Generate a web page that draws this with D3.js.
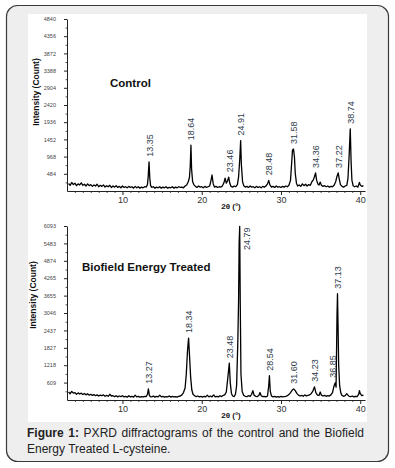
<!DOCTYPE html>
<html lang="en">
<head>
<meta charset="utf-8">
<title>PXRD L-cysteine</title>
<script src="https://cdn.jsdelivr.net/npm/d3@7"></script>
<style>
body{margin:0;background:#fff;}
</style>
</head>
<body>
<script>
// x ticks and y tick labels
var xTicks = [10, 20, 30, 40];
var controlTicks = [484, 968, 1452, 1936, 2420, 2904, 3388, 3872, 4356, 4840];
var treatedTicks = [609, 1218, 1827, 2437, 3046, 3655, 4265, 4874, 5483, 6093];

// [2theta, counts]
var controlData = [
[3.2,210],[3.4,160],[3.6,240],[3.8,180],[4.0,220],[4.2,150],[4.4,200],[4.6,170],[4.8,230],[5.0,160],
[5.2,190],[5.4,140],[5.6,200],[5.8,150],[6.0,180],[6.2,130],[6.4,170],[6.6,140],[6.8,190],[7.0,120],
[7.2,160],[7.4,130],[7.6,170],[7.8,110],[8.0,150],[8.2,120],[8.4,160],[8.6,100],[8.8,140],[9.0,110],
[9.2,150],[9.4,100],[9.6,130],[9.8,90],[10.0,140],[10.2,100],[10.4,120],[10.6,90],[10.8,130],[11.0,100],
[11.2,120],[11.4,80],[11.6,130],[11.8,90],[12.0,120],[12.2,80],[12.4,110],[12.6,90],[12.8,120],[13.0,110],
[13.15,180],[13.25,420],[13.35,820],[13.45,350],[13.55,150],[13.7,100],[13.9,120],[14.1,80],[14.3,110],[14.5,90],
[14.7,120],[14.9,80],[15.1,110],[15.3,90],[15.5,120],[15.7,80],[15.9,100],[16.1,90],[16.3,120],[16.5,80],
[16.7,110],[16.9,90],[17.1,120],[17.3,100],[17.5,110],[17.7,90],[17.9,140],[18.1,170],[18.3,260],[18.45,380],
[18.55,700],[18.64,1290],[18.72,620],[18.85,260],[19.0,180],[19.2,130],[19.4,100],[19.6,140],[19.8,110],[20.0,120],
[20.2,90],[20.4,130],[20.6,100],[20.8,120],[21.0,140],[21.15,280],[21.3,450],[21.45,200],[21.6,110],[21.8,130],
[22.0,100],[22.2,120],[22.4,110],[22.6,140],[22.8,230],[22.95,360],[23.1,220],[23.25,280],[23.4,390],[23.55,210],
[23.7,130],[23.9,110],[24.1,140],[24.3,120],[24.5,180],[24.65,400],[24.8,900],[24.91,1420],[25.0,750],[25.15,260],
[25.3,150],[25.5,110],[25.7,130],[25.9,100],[26.1,140],[26.3,110],[26.5,120],[26.7,90],[26.9,130],[27.1,100],
[27.3,120],[27.5,90],[27.7,130],[27.9,110],[28.1,140],[28.3,200],[28.45,300],[28.6,170],[28.8,110],[29.0,130],
[29.2,100],[29.4,140],[29.6,110],[29.8,120],[30.0,100],[30.2,130],[30.4,110],[30.6,140],[30.8,120],[31.0,160],
[31.2,300],[31.35,800],[31.45,1150],[31.58,1180],[31.7,950],[31.8,500],[31.95,220],[32.1,140],[32.3,170],[32.5,130],
[32.7,200],[32.9,150],[33.1,190],[33.3,140],[33.5,180],[33.7,160],[33.9,260],[34.1,320],[34.25,420],[34.36,510],
[34.5,300],[34.65,200],[34.8,170],[34.95,250],[35.1,160],[35.3,130],[35.5,150],[35.7,120],[35.9,140],[36.1,110],
[36.3,130],[36.5,120],[36.7,160],[36.9,260],[37.05,400],[37.22,510],[37.35,340],[37.5,180],[37.7,130],[37.9,110],
[38.1,140],[38.3,160],[38.45,350],[38.6,1000],[38.74,1750],[38.85,800],[38.95,300],[39.1,150],[39.3,120],[39.5,140],
[39.7,110],[39.8,180],[39.9,240],[40.0,170],[40.2,130],[40.4,150]
];

// [2theta, counts]
var treatedData = [
[3.2,280],[3.4,220],[3.6,300],[3.8,240],[4.0,260],[4.2,200],[4.4,250],[4.6,210],[4.8,240],[5.0,190],
[5.2,230],[5.4,180],[5.6,220],[5.8,170],[6.0,200],[6.2,160],[6.4,190],[6.6,150],[6.8,180],[7.0,140],
[7.2,170],[7.4,150],[7.6,180],[7.8,130],[8.0,160],[8.2,130],[8.4,200],[8.6,140],[8.8,150],[9.0,120],
[9.2,150],[9.4,110],[9.6,140],[9.8,120],[10.0,150],[10.2,110],[10.4,130],[10.6,100],[10.8,150],[11.0,110],
[11.2,130],[11.4,100],[11.6,170],[11.8,110],[12.0,130],[12.2,100],[12.4,120],[12.6,110],[12.8,130],[13.0,120],
[13.15,200],[13.27,390],[13.38,180],[13.5,120],[13.7,110],[13.9,140],[14.1,100],[14.3,130],[14.5,110],[14.7,170],
[14.9,110],[15.1,130],[15.3,100],[15.5,120],[15.7,110],[15.9,140],[16.1,100],[16.3,130],[16.5,110],[16.7,120],
[16.9,100],[17.1,130],[17.3,140],[17.5,180],[17.7,260],[17.9,420],[18.05,900],[18.2,1700],[18.34,2170],[18.45,1600],
[18.6,800],[18.75,350],[18.9,200],[19.1,150],[19.3,120],[19.5,140],[19.7,110],[19.9,130],[20.1,100],[20.3,130],
[20.5,110],[20.7,170],[20.9,110],[21.1,140],[21.3,110],[21.5,180],[21.7,110],[21.9,130],[22.1,110],[22.3,150],
[22.5,120],[22.7,160],[22.9,180],[23.1,280],[23.3,800],[23.48,1290],[23.6,600],[23.75,230],[23.9,140],[24.1,120],
[24.25,200],[24.4,500],[24.55,2000],[24.65,3500],[24.72,5500],[24.79,6080],[24.86,3400],[24.95,900],[25.1,300],[25.3,160],
[25.5,130],[25.7,120],[25.9,150],[26.1,130],[26.3,200],[26.45,330],[26.6,170],[26.8,130],[27.0,120],[27.2,160],
[27.35,260],[27.5,150],[27.7,120],[27.9,130],[28.1,110],[28.3,140],[28.45,500],[28.54,850],[28.65,300],[28.8,140],
[29.0,110],[29.2,130],[29.4,100],[29.6,120],[29.8,100],[30.0,130],[30.2,110],[30.4,120],[30.6,130],[30.8,150],
[31.0,190],[31.2,260],[31.4,340],[31.6,390],[31.8,330],[32.0,230],[32.2,170],[32.4,140],[32.6,160],[32.8,130],
[33.0,180],[33.2,140],[33.4,160],[33.6,180],[33.8,220],[34.0,300],[34.23,460],[34.4,260],[34.6,170],[34.8,160],
[34.95,280],[35.1,170],[35.3,140],[35.5,160],[35.7,130],[35.9,150],[36.1,140],[36.3,180],[36.5,260],[36.7,500],
[36.85,600],[36.95,450],[37.0,1500],[37.07,3000],[37.13,3720],[37.2,2600],[37.28,1200],[37.4,500],[37.55,250],[37.7,160],
[37.9,130],[38.1,150],[38.3,220],[38.45,170],[38.6,130],[38.8,120],[39.0,140],[39.2,110],[39.4,130],[39.6,120],
[39.8,200],[39.9,330],[40.0,220],[40.2,150],[40.4,170]
];

// peak labels
var controlPeaks = [13.35, 18.64, 23.46, 24.91, 28.48, 31.58, 34.36, 37.22, 38.74];
var controlPeakText = ["13.35", "18.64", "23.46", "24.91", "28.48", "31.58", "34.36", "37.22", "38.74"];
var treatedPeaks = [13.27, 18.34, 23.48, 24.79, 28.54, 31.60, 34.23, 36.85, 37.13];
var treatedPeakText = ["13.27", "18.34", "23.48", "24.79", "28.54", "31.60", "34.23", "36.85", "37.13"];

var W = 395, H = 468;
var svg = d3.select("body").append("svg")
  .attr("width", W).attr("height", H)
  .style("display", "block");

// frame: grey card with white chart area
svg.append("rect")
  .attr("x", 6.5).attr("y", 5.5).attr("width", 382).attr("height", 456)
  .attr("rx", 11).attr("ry", 11)
  .attr("fill", "#eeeeee").attr("stroke", "#3a3a3a").attr("stroke-width", 1.2);
svg.append("rect")
  .attr("x", 28).attr("y", 14).attr("width", 339).attr("height", 408)
  .attr("fill", "#ffffff");

var x = d3.scaleLinear().domain([3, 40.6]).range([67, 365]);

function drawPanel(opts) {
  var y = d3.scaleLinear().domain([0, opts.max]).range([opts.bottom, opts.top]);
  var g = svg.append("g");

  // x axis: major + minor ticks
  var xMinor = d3.range(4, 41, 1).filter(function(d){ return d % 10 !== 0; });
  g.append("g")
    .attr("transform", "translate(0," + opts.bottom + ")")
    .call(d3.axisBottom(x).tickValues(xMinor).tickSize(2).tickFormat(""))
    .call(function(a){ a.select(".domain").remove(); a.selectAll("line").attr("stroke", "#555"); });
  var xa = g.append("g")
    .attr("transform", "translate(0," + opts.bottom + ")")
    .call(d3.axisBottom(x).tickValues(xTicks).tickSize(4).tickSizeOuter(0).tickPadding(2));
  xa.select(".domain").attr("stroke", "#222");
  xa.selectAll("line").attr("stroke", "#222");
  xa.selectAll("text").attr("font-family", "Arial, 'Liberation Sans', sans-serif")
    .attr("font-size", "9px").attr("fill", "#333");

  // y axis
  var yMinor = opts.ticks.map(function(d){ return d - opts.ticks[0] / 2; });
  g.append("g")
    .attr("transform", "translate(" + x.range()[0] + ",0)")
    .call(d3.axisLeft(y).tickValues(yMinor).tickSize(1.5).tickFormat(""))
    .call(function(a){ a.select(".domain").remove(); a.selectAll("line").attr("stroke", "#555"); });
  var ya = g.append("g")
    .attr("transform", "translate(" + x.range()[0] + ",0)")
    .call(d3.axisLeft(y).tickValues(opts.ticks).tickFormat(d3.format("d"))
      .tickSize(3).tickSizeOuter(0).tickPadding(8));
  ya.select(".domain").attr("stroke", "#222");
  ya.selectAll("line").attr("stroke", "#222");
  ya.selectAll("text").attr("font-family", "Arial, 'Liberation Sans', sans-serif")
    .attr("font-size", "5.5px").attr("fill", "#444");

  // pattern
  var line = d3.line()
    .x(function(d){ return x(d[0]); })
    .y(function(d){ return y(d[1]); });
  g.append("path")
    .datum(opts.data)
    .attr("d", line)
    .attr("fill", "none")
    .attr("stroke", "#000")
    .attr("stroke-width", 1.3)
    .attr("stroke-linejoin", "round");

  // peak labels
  opts.peaks.forEach(function(p, i){
    var near = opts.data.filter(function(d){ return Math.abs(d[0] - p) <= 0.12; });
    var peakTop = d3.max(near, function(d){ return d[1]; });
    var px = x(p) + 3.5, py = y(peakTop) - 5, anchor = "start";
    if (peakTop > opts.max * 0.9) { // tallest peak: label sits beside it
      px = x(p) + 10; py = y(peakTop) + 1; anchor = "end";
    }
    if (p === 36.85) px -= 3;
    g.append("text")
      .attr("transform", "translate(" + px + "," + py + ") rotate(-90)")
      .attr("text-anchor", anchor)
      .attr("font-family", "Arial, 'Liberation Sans', sans-serif")
      .attr("font-size", "9px")
      .attr("fill", "#2e3b4c")
      .text(opts.peakText[i]);
  });

  // titles
  g.append("text")
    .attr("x", opts.titleX).attr("y", opts.titleY)
    .attr("font-family", "Arial, 'Liberation Sans', sans-serif")
    .attr("font-size", "11.5px").attr("font-weight", "bold").attr("fill", "#111")
    .text(opts.title);
  g.append("text")
    .attr("transform", "translate(" + opts.yTitleX + "," + opts.yTitleY + ") rotate(-90)")
    .attr("text-anchor", "middle")
    .attr("font-family", "Arial, 'Liberation Sans', sans-serif")
    .attr("font-size", "8.5px").attr("font-weight", "bold").attr("fill", "#111")
    .text("Intensity (Count)");
  g.append("text")
    .attr("x", 231).attr("y", opts.bottom + 18)
    .attr("text-anchor", "middle")
    .attr("font-family", "Arial, 'Liberation Sans', sans-serif")
    .attr("font-size", "8px").attr("font-weight", "bold").attr("fill", "#111")
    .text("2\u03b8 (\u00b0)");
}

drawPanel({
  data: controlData, max: 4840, ticks: controlTicks,
  top: 19, bottom: 191,
  peaks: controlPeaks, peakText: controlPeakText,
  title: "Control", titleX: 110, titleY: 87,
  yTitleX: 39, yTitleY: 92
});

drawPanel({
  data: treatedData, max: 6093, ticks: treatedTicks,
  top: 226, bottom: 400,
  peaks: treatedPeaks, peakText: treatedPeakText,
  title: "Biofield Energy Treated", titleX: 82, titleY: 271,
  yTitleX: 36, yTitleY: 295
});

// caption, first line justified
var cap1 = svg.append("text")
  .attr("x", 27).attr("y", 437)
  .attr("font-family", "Arial, 'Liberation Sans', sans-serif")
  .attr("font-size", "12px").attr("fill", "#222");
cap1.append("tspan").attr("font-weight", "bold").text("Figure 1:");
cap1.append("tspan").text(" PXRD diffractograms of the control and the Biofield");
var natural = cap1.node().getComputedTextLength();
cap1.attr("word-spacing", ((364 - 27 - natural) / 9).toFixed(2) + "px");

svg.append("text")
  .attr("x", 27).attr("y", 453)
  .attr("font-family", "Arial, 'Liberation Sans', sans-serif")
  .attr("font-size", "12px").attr("fill", "#222")
  .text("Energy Treated L-cysteine.");
</script>
</body>
</html>
